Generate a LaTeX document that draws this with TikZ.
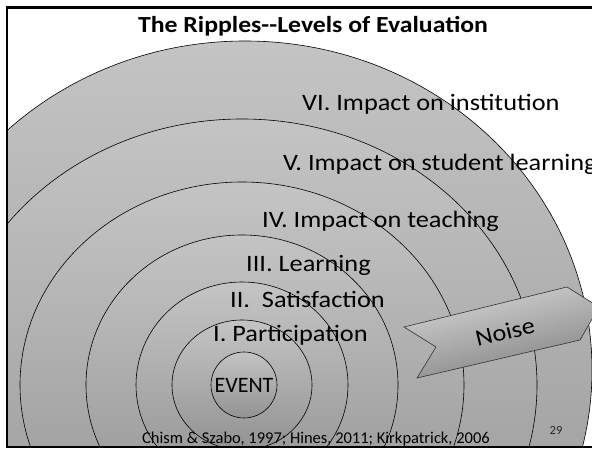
\documentclass[tikz,border=0pt]{standalone}
\usepackage{fontspec}
\setmainfont{Carlito}
\newfontfamily\widefont{Carlito}[FakeStretch=1.12]
\definecolor{ringtop}{RGB}{196,196,196}
\definecolor{ringbot}{RGB}{146,146,146}
\definecolor{arrowtop}{RGB}{214,214,214}
\definecolor{arrowbot}{RGB}{128,128,128}
\definecolor{pagenum}{RGB}{40,40,40}
\tikzset{
  ring/.style={draw=black, line width=0.6pt, top color=ringtop, bottom color=ringbot},
  level/.style={font=\widefont\fontsize{23.5}{27}\selectfont, anchor=base west, inner sep=0pt},
  frame/.style={draw=black, line width=2.4pt},
}
\begin{document}
\begin{tikzpicture}[x=1pt,y=1pt]
\useasboundingbox (0,0) rectangle (592,449);
\fill[white] (0,0) rectangle (592,449);

% concentric ripples, clipped to the slide area
\begin{scope}
  \clip (7,2) rectangle (592,441.5);
  \path[ring] (245,79) ellipse [x radius=347, y radius=329];
  \path[ring] (242,64) ellipse [x radius=295, y radius=266];
  \path[ring] (242,64) ellipse [x radius=222, y radius=203];
  \path[ring] (242,64) ellipse [x radius=156, y radius=150];
  \path[ring] (242,64) ellipse [x radius=106, y radius=103];
  \path[ring] (242,64) ellipse [x radius=70, y radius=65];

  % the "Noise" arrow
  \path[draw=black!80, line width=0.6pt, top color=arrowtop, bottom color=arrowbot, shading angle=13.5]
    (404,122) -- (567,162) -- (599,142) -- (580,109) -- (417,71) -- (436,102) -- cycle;
\end{scope}

\node[ring, circle, minimum size=66pt, inner sep=0pt,
      font=\fontsize{22}{26}\selectfont] (event) at (244,64) {EVENT};

% level labels
\node[level] (l6) at (302,338) {VI. Impact on institution};
\node[level] (l5) at (283,278) {V. Impact on student learning};
\node[level] (l4) at (262,221) {IV. Impact on teaching};
\node[level] (l3) at (246,177) {III. Learning};
\node[level] (l2) at (230,141) {II.\ \ Satisfaction};
\node[level] (l1) at (213,107) {I. Participation};

\node[font=\widefont\fontsize{23.5}{27}\selectfont, rotate=13.5, inner sep=0pt] (noise) at (505,117) {Noise};

% title, sources and slide number
\node[font=\widefont\bfseries\fontsize{23}{27}\selectfont, anchor=base, inner sep=0pt] (title) at (313,416) {The Ripples--Levels of Evaluation};
\node[font=\fontsize{16.5}{19}\selectfont, anchor=base west, inner sep=0pt] (refs) at (142,5) {Chism \& Szabo, 1997; Hines, 2011; Kirkpatrick, 2006};
\node[font=\fontsize{12.5}{14}\selectfont, text=pagenum, inner sep=0pt] (pnum) at (556,19) {29};

% slide frame
\draw[frame] (592,441.5) -- (7,441.5) -- (7,2) -- (592,2);
\end{tikzpicture}
\end{document}
